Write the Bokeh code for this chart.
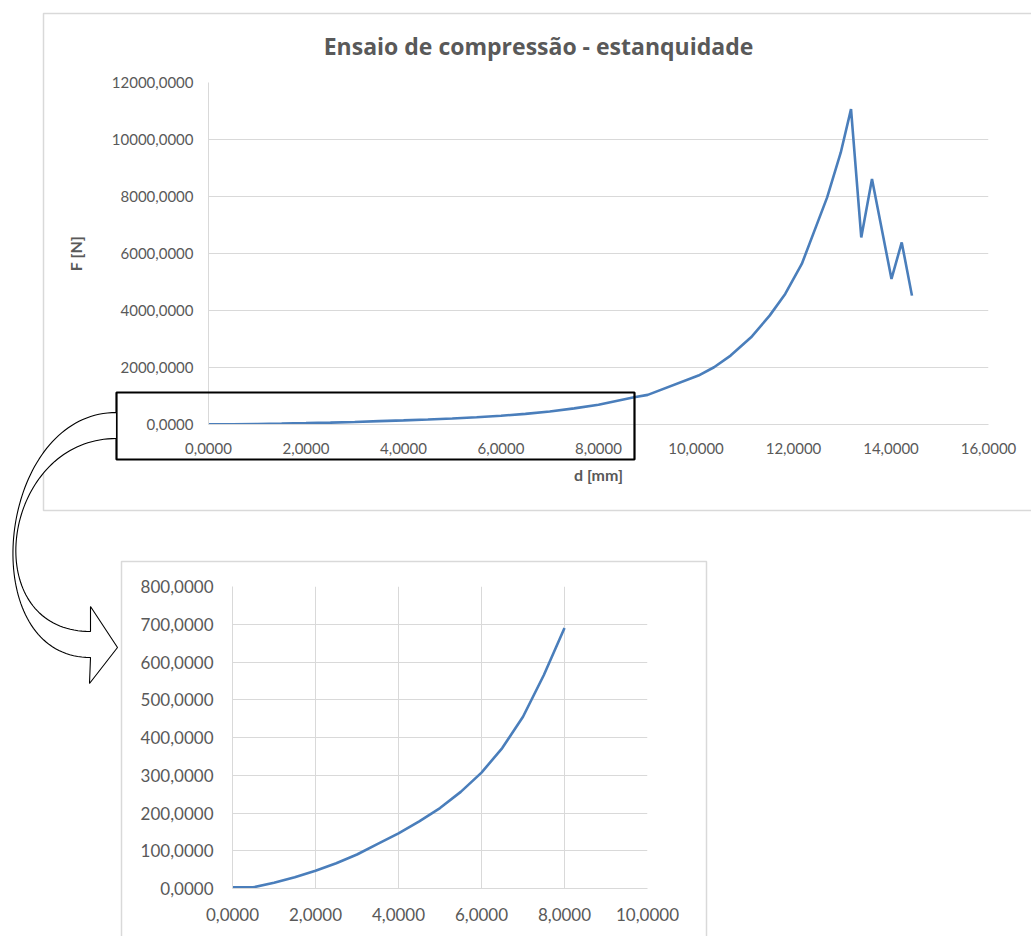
import numpy as np
from bokeh.plotting import figure
from bokeh.models import Range1d, FixedTicker, ColumnDataSource
from bokeh.core.properties import value
from bokeh.embed import file_html
from bokeh.resources import INLINE

# Compression test: displacement d [mm] vs force F [N]
d_mm = [0.0, 0.5, 1.0, 1.5, 2.0, 2.5, 3.0, 3.5, 4.0, 4.5, 5.0, 5.5, 6.0, 6.5,
        7.0, 7.5, 8.0, 8.73, 9.01, 10.05, 10.37, 10.71, 11.13, 11.51, 11.83,
        12.17, 12.69, 12.97, 13.18, 13.39, 13.61, 14.01, 14.22, 14.43]
force_n = [3, 3, 15, 30, 47, 67, 90, 118, 146, 178, 213, 256, 307, 372,
           455, 565, 690, 957, 1040, 1718, 2009, 2418, 3060, 3820, 4581,
           5632, 7968, 9545, 11066, 6565, 8612, 5107, 6390, 4522]

# Detail view covers the first part of the test
detail_limit = 8.0

main_x_ticks = [0, 2, 4, 6, 8, 10, 12, 14, 16]
main_x_labels = ["0,0000", "2,0000", "4,0000", "6,0000", "8,0000",
                 "10,0000", "12,0000", "14,0000", "16,0000"]
main_y_ticks = [0, 2000, 4000, 6000, 8000, 10000, 12000]
main_y_labels = ["0,0000", "2000,0000", "4000,0000", "6000,0000",
                 "8000,0000", "10000,0000", "12000,0000"]

detail_x_ticks = [0, 2, 4, 6, 8, 10]
detail_x_labels = ["0,0000", "2,0000", "4,0000", "6,0000", "8,0000", "10,0000"]
detail_y_ticks = [0, 100, 200, 300, 400, 500, 600, 700, 800]
detail_y_labels = ["0,0000", "100,0000", "200,0000", "300,0000", "400,0000",
                   "500,0000", "600,0000", "700,0000", "800,0000"]

TITLE = "Ensaio de compressão  - estanquidade"
TEXT = "#595959"
GRID = "#d9d9d9"
BLUE = "#4a7ebb"
FONT = "Lato"
TITLE_FONT = "Open Sans"

PAGE_W, PAGE_H = 1031, 936
MAIN_H = 530
DETAIL_H = PAGE_H - MAIN_H


def placed(top):
    return {"position": "absolute", "top": f"{top}px", "left": "0px"}


def clear_background(p):
    p.outline_line_color = None
    p.background_fill_alpha = 0
    p.border_fill_alpha = 0


def style_axes(p, tick_size, label_size):
    for ax in (p.xaxis[0], p.yaxis[0]):
        ax.major_tick_line_color = None
        ax.minor_tick_line_color = None
        ax.major_tick_out = 0
        ax.major_tick_in = 0
        ax.minor_tick_out = 0
        ax.axis_line_color = GRID
        ax.major_label_text_font = FONT
        ax.major_label_text_font_size = tick_size
        ax.major_label_text_color = TEXT
        ax.axis_label_text_font = FONT
        ax.axis_label_text_font_style = "bold"
        ax.axis_label_text_font_size = label_size
        ax.axis_label_text_color = TEXT


def set_ticks(axis, ticks, labels):
    axis.ticker = FixedTicker(ticks=ticks)
    axis.major_label_overrides = dict(zip(ticks, labels))


def bezier(p0, p1, p2, p3, n=80):
    t = np.linspace(0.0, 1.0, n)
    pts = [np.asarray(p, dtype=float) for p in (p0, p1, p2, p3)]
    c = ((1 - t) ** 3, 3 * (1 - t) ** 2 * t, 3 * (1 - t) * t ** 2, t ** 3)
    x = sum(ci * p[0] for ci, p in zip(c, pts))
    y = sum(ci * p[1] for ci, p in zip(c, pts))
    return list(x), list(y)


# ---------------- main chart ----------------
main = figure(width=PAGE_W, height=MAIN_H, output_backend="svg",
              toolbar_location=None, x_range=Range1d(0, 16),
              y_range=Range1d(0, 12000),
              min_border_left=208, min_border_right=43,
              min_border_top=82, min_border_bottom=106,
              styles=placed(0))
clear_background(main)
style_axes(main, "15px", "16px")
set_ticks(main.xaxis[0], main_x_ticks, main_x_labels)
set_ticks(main.yaxis[0], main_y_ticks, main_y_labels)
main.xaxis.axis_label = "d [mm]"
main.yaxis.axis_label = "F [N]"
main.xaxis.major_label_standoff = 18
main.yaxis.major_label_standoff = 15
main.xaxis.axis_label_standoff = 8
main.yaxis.axis_label_standoff = 24
main.xgrid.visible = False
main.ygrid.grid_line_color = GRID
main.ygrid.grid_line_width = 1

src = ColumnDataSource(dict(d=d_mm, F=force_n))
main.line("d", "F", source=src, line_color=BLUE, line_width=2.6)

# ---------------- detail chart ----------------
detail = figure(width=PAGE_W, height=DETAIL_H, output_backend="svg",
                toolbar_location=None, x_range=Range1d(0, 10),
                y_range=Range1d(0, 800),
                min_border_left=232, min_border_right=384,
                min_border_top=56, min_border_bottom=48,
                styles=placed(MAIN_H))
clear_background(detail)
style_axes(detail, "17px", "16px")
set_ticks(detail.xaxis[0], detail_x_ticks, detail_x_labels)
set_ticks(detail.yaxis[0], detail_y_ticks, detail_y_labels)
detail.xaxis.major_label_standoff = 19
detail.yaxis.major_label_standoff = 19
detail.xgrid.grid_line_color = GRID
detail.ygrid.grid_line_color = GRID

sel = [i for i, v in enumerate(d_mm) if v <= detail_limit]
detail_src = ColumnDataSource(dict(d=[d_mm[i] for i in sel],
                                   F=[force_n[i] for i in sel]))
detail.line("d", "F", source=detail_src, line_color=BLUE, line_width=2.6)

# ---------------- page sheet: title, borders, zoom box and arrow ----------------
sheet = figure(width=PAGE_W, height=PAGE_H, output_backend="svg",
               toolbar_location=None, x_range=Range1d(0, PAGE_W),
               y_range=Range1d(PAGE_H, 0), min_border=0,
               x_axis_location=None, y_axis_location=None,
               styles=placed(0))
clear_background(sheet)
sheet.xgrid.visible = False
sheet.ygrid.visible = False

sheet.text(x=[541], y=[45], text=[TITLE], text_align="center",
           text_baseline="middle", text_font=value(TITLE_FONT),
           text_font_style="bold", text_font_size="23px", text_color=TEXT)

# chart borders
sheet.quad(left=[43], right=[1100], top=[13], bottom=[510],
           fill_color=None, line_color=GRID, line_width=1.5)
sheet.quad(left=[121], right=[706], top=[561], bottom=[1000],
           fill_color=None, line_color=GRID, line_width=1.5)

# highlight of the region shown in the detail view
sheet.quad(left=[116], right=[634], top=[392], bottom=[459],
           fill_color=None, line_color="black", line_width=2.2)

# curved arrow pointing to the detail view
ox, oy = bezier((116, 412), (-5, 412), (-28, 657), (90, 657))
ix, iy = bezier((116, 438), (0, 438), (-25, 631), (90, 631))
arrow_x = ox + [89, 117, 90] + ix[::-1]
arrow_y = oy + [683, 647, 606] + iy[::-1]
sheet.patch(arrow_x, arrow_y, fill_color="white", line_color="black",
            line_width=1.1)

open("out.html", "w").write(file_html([main, detail, sheet], INLINE))
